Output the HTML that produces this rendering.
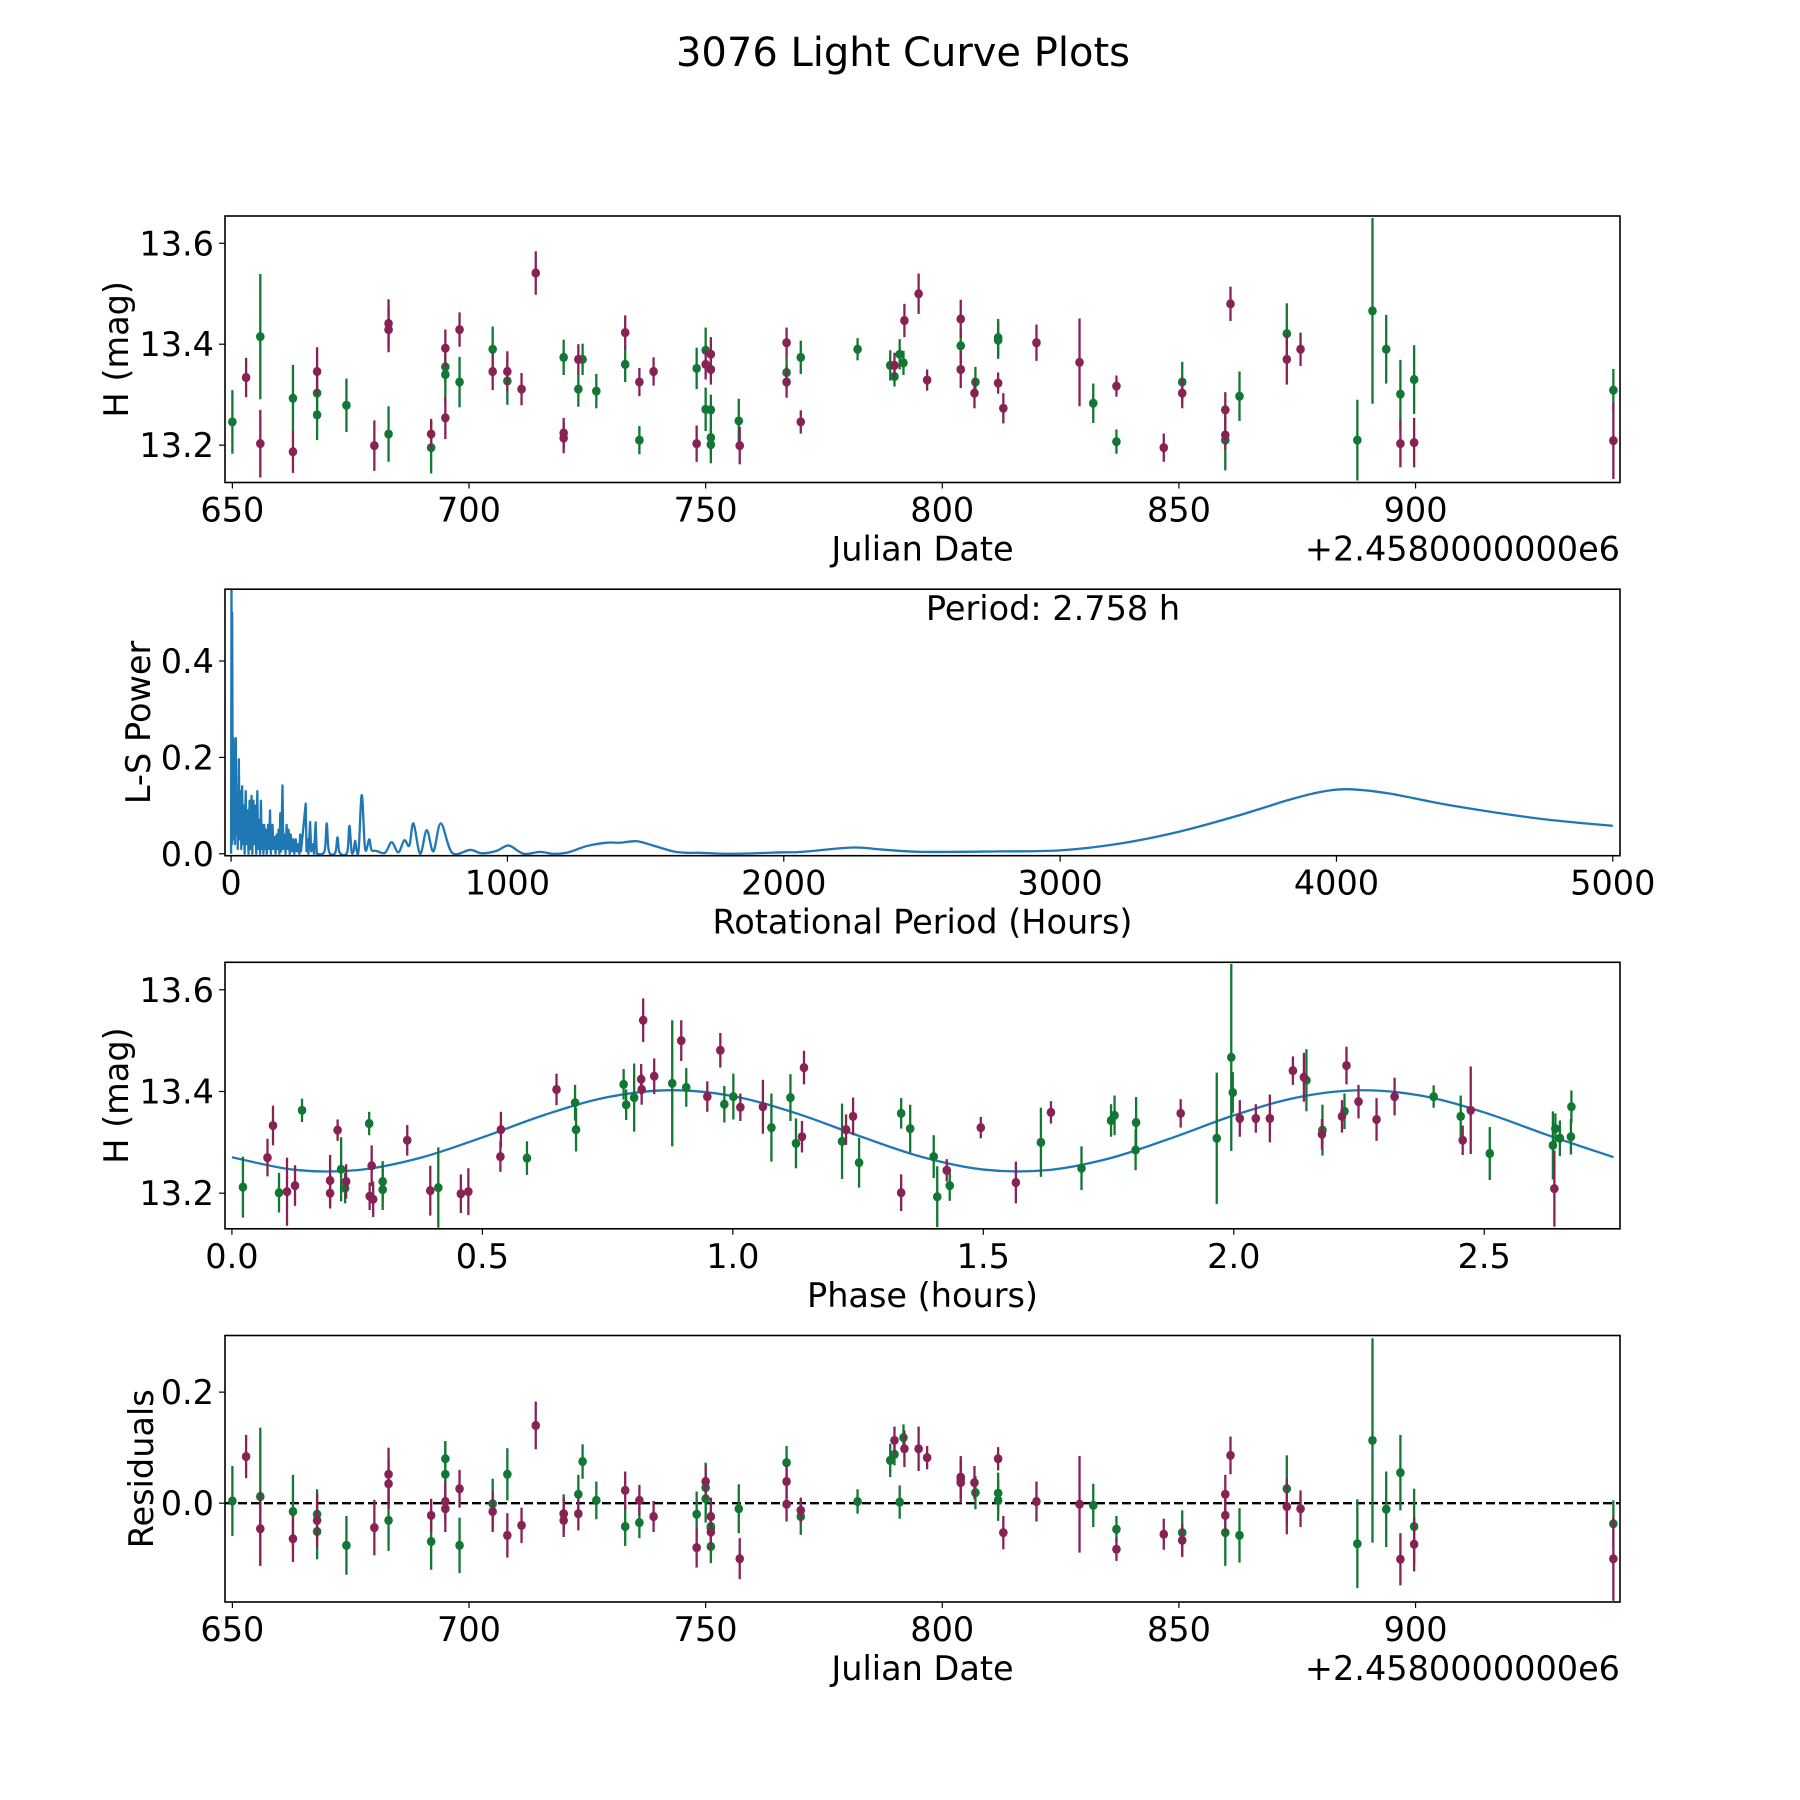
<!DOCTYPE html>
<html><head><meta charset="utf-8"><title>3076 Light Curve Plots</title>
<style>
html,body{margin:0;padding:0;background:#fff;}
svg{display:block;font-family:"DejaVu Sans","Liberation Sans",sans-serif;}
</style></head>
<body>
<svg id="fig" width="1800" height="1800" viewBox="0 0 1800 1800" xmlns="http://www.w3.org/2000/svg">
<rect x="0" y="0" width="1800" height="1800" fill="#fff"/>
<text x="903" y="66" font-size="40" text-anchor="middle">3076 Light Curve Plots</text>
</svg>
<script>
// ---- data: light curve (panel 1) and residuals (panel 4) ----
const obsDates = [650.0,652.9,655.9,655.9,662.8,662.8,667.9,667.9,667.9,674.1,680.0,683.0,683.0,683.0,692.0,692.0,695.0,695.0,695.0,695.0,698.0,698.0,705.0,705.0,708.1,708.1,711.1,714.1,720.0,720.0,720.0,723.1,723.1,724.0,726.9,733.0,733.0,736.0,736.0,739.0,748.1,748.1,750.0,750.0,750.0,751.1,751.1,751.1,751.1,751.1,757.0,757.2,767.1,767.1,767.1,770.1,770.1,782.1,789.0,789.9,789.9,791.0,791.8,792.0,795.0,796.8,803.9,803.9,803.9,807.0,806.8,811.8,811.8,811.8,812.9,819.9,829.0,831.9,836.8,836.8,846.8,850.7,850.7,859.8,859.8,859.8,860.9,862.8,872.8,872.8,875.7,887.7,890.9,893.8,896.8,896.8,899.7,899.7,941.8,941.8];
const obsFilters = ["G","P","G","P","G","P","P","G","G","G","P","G","P","P","P","G","P","G","G","P","P","G","G","P","P","G","P","P","G","P","P","P","G","G","G","P","G","P","G","P","G","P","G","P","G","P","P","G","G","G","G","P","P","G","P","G","P","G","G","P","G","G","G","P","P","P","P","G","P","G","P","G","G","P","P","P","P","G","P","G","P","G","P","P","P","G","P","G","G","P","P","G","G","G","G","P","G","P","G","P"];
const obsMags = [13.246,13.334,13.415,13.203,13.293,13.187,13.346,13.303,13.260,13.279,13.199,13.222,13.441,13.429,13.222,13.195,13.392,13.355,13.340,13.254,13.429,13.325,13.390,13.346,13.346,13.327,13.311,13.541,13.374,13.224,13.214,13.370,13.311,13.370,13.307,13.423,13.360,13.325,13.210,13.346,13.352,13.203,13.388,13.360,13.271,13.380,13.350,13.270,13.215,13.201,13.248,13.199,13.403,13.344,13.325,13.374,13.246,13.390,13.358,13.358,13.336,13.380,13.363,13.447,13.500,13.329,13.450,13.397,13.350,13.325,13.303,13.413,13.408,13.323,13.273,13.403,13.364,13.283,13.317,13.207,13.195,13.325,13.303,13.270,13.220,13.210,13.480,13.297,13.421,13.370,13.390,13.210,13.466,13.390,13.301,13.203,13.330,13.205,13.309,13.209];
const obsErrs = [0.063,0.039,0.124,0.067,0.066,0.042,0.048,0.045,0.050,0.053,0.050,0.055,0.048,0.045,0.030,0.051,0.037,0.030,0.060,0.042,0.034,0.050,0.045,0.037,0.040,0.047,0.032,0.043,0.035,0.030,0.030,0.030,0.035,0.031,0.034,0.034,0.035,0.028,0.028,0.028,0.041,0.036,0.045,0.030,0.043,0.034,0.030,0.030,0.030,0.037,0.044,0.037,0.030,0.030,0.031,0.033,0.023,0.022,0.030,0.025,0.020,0.030,0.024,0.033,0.040,0.021,0.038,0.035,0.037,0.030,0.030,0.037,0.037,0.021,0.030,0.036,0.087,0.039,0.021,0.024,0.028,0.040,0.030,0.035,0.030,0.060,0.034,0.049,0.060,0.050,0.033,0.080,0.184,0.068,0.068,0.047,0.068,0.049,0.042,0.076];
const residVals = [0.004,0.084,0.012,-0.046,-0.015,-0.064,-0.031,-0.020,-0.051,-0.076,-0.044,-0.031,0.052,0.035,-0.022,-0.069,0.003,0.080,0.052,-0.010,0.026,-0.076,-0.001,-0.015,-0.058,0.052,-0.040,0.140,-0.019,-0.019,-0.031,-0.019,0.016,0.075,0.005,0.023,-0.042,0.005,-0.035,-0.024,-0.020,-0.080,0.028,0.039,0.008,-0.024,-0.052,-0.042,-0.078,-0.045,-0.010,-0.100,0.039,0.073,-0.002,-0.024,-0.013,0.003,0.077,0.113,0.088,0.002,0.118,0.098,0.098,0.082,0.047,0.043,0.037,0.019,0.037,0.018,0.005,0.080,-0.053,0.003,-0.002,-0.004,-0.083,-0.047,-0.056,-0.053,-0.067,0.016,-0.022,-0.053,0.086,-0.058,0.026,-0.006,-0.010,-0.073,0.113,-0.011,0.055,-0.101,-0.042,-0.074,-0.037,-0.100];

// ---- data: phase-folded curve (panel 3) ----
const phaseVals = [0.022,0.071,0.082,0.094,0.110,0.126,0.140,0.196,0.196,0.211,0.218,0.226,0.228,0.274,0.275,0.279,0.282,0.301,0.301,0.350,0.396,0.412,0.457,0.472,0.537,0.536,0.589,0.648,0.685,0.687,0.782,0.787,0.803,0.817,0.818,0.821,0.843,0.879,0.897,0.907,0.949,0.975,0.983,1.001,1.015,1.060,1.077,1.115,1.126,1.138,1.142,1.218,1.226,1.240,1.252,1.336,1.336,1.354,1.401,1.408,1.427,1.433,1.495,1.565,1.615,1.635,1.696,1.755,1.762,1.805,1.804,1.894,1.966,1.995,1.998,2.012,2.044,2.072,2.118,2.140,2.145,2.177,2.176,2.216,2.221,2.225,2.249,2.285,2.321,2.399,2.453,2.457,2.473,2.511,2.637,2.640,2.642,2.651,2.673,2.674];
const phaseMags = [13.212,13.270,13.333,13.201,13.203,13.215,13.363,13.225,13.200,13.324,13.247,13.210,13.223,13.337,13.194,13.254,13.188,13.223,13.207,13.304,13.205,13.211,13.199,13.203,13.325,13.272,13.269,13.404,13.378,13.325,13.414,13.374,13.388,13.424,13.404,13.540,13.430,13.416,13.500,13.408,13.390,13.481,13.375,13.390,13.369,13.370,13.329,13.388,13.298,13.311,13.447,13.302,13.325,13.351,13.260,13.357,13.201,13.327,13.272,13.193,13.245,13.215,13.329,13.221,13.300,13.359,13.249,13.343,13.353,13.339,13.285,13.357,13.308,13.467,13.398,13.347,13.347,13.347,13.441,13.428,13.422,13.324,13.316,13.351,13.361,13.451,13.380,13.345,13.390,13.390,13.351,13.304,13.363,13.278,13.294,13.209,13.327,13.308,13.311,13.370];
const phaseErrs = [0.060,0.037,0.039,0.039,0.067,0.040,0.023,0.050,0.030,0.021,0.063,0.030,0.034,0.023,0.027,0.040,0.035,0.040,0.040,0.030,0.049,0.079,0.038,0.046,0.035,0.030,0.033,0.031,0.035,0.043,0.030,0.030,0.067,0.030,0.030,0.043,0.035,0.124,0.040,0.038,0.030,0.034,0.036,0.045,0.027,0.053,0.067,0.046,0.049,0.031,0.033,0.074,0.030,0.037,0.049,0.030,0.036,0.047,0.042,0.060,0.022,0.030,0.021,0.041,0.068,0.022,0.043,0.032,0.039,0.050,0.040,0.028,0.129,0.184,0.040,0.036,0.028,0.047,0.028,0.048,0.061,0.050,0.030,0.032,0.035,0.037,0.033,0.042,0.037,0.022,0.041,0.029,0.086,0.052,0.067,0.075,0.030,0.035,0.035,0.032];
const phaseFilters = ["G","P","P","G","P","P","G","P","P","P","G","G","P","G","P","P","P","G","G","P","P","G","P","P","P","P","G","P","G","G","G","G","G","P","P","P","P","G","P","G","P","P","G","G","P","P","G","G","G","P","P","G","P","P","G","G","P","G","G","G","P","G","P","P","G","P","G","G","G","G","G","P","G","G","G","P","P","P","P","P","G","G","P","P","G","P","P","P","P","G","G","P","P","G","G","P","G","G","G","G"];
const fitPhases = [0,0.125,0.25,0.375,0.5,0.625,0.75,0.875,1.0,1.125,1.25,1.375,1.5,1.625,1.75,1.875,2.0,2.125,2.25,2.375,2.5,2.625,2.758];
const fitMags = [13.2708,13.2460,13.2454,13.2692,13.3097,13.3543,13.3889,13.4025,13.3909,13.3576,13.3133,13.2719,13.2465,13.2451,13.2680,13.3082,13.3530,13.3880,13.4024,13.3916,13.3588,13.3148,13.2708];

// ---- data: periodogram (panel 2) ----
const lsPeriods = [0,1.5,3,4,6,8,10,12,14,17,19,22,24,28,31,34,37,40,43,46,49,53,56,60,63,67,70,74,77,81,84,88,91,95,98,102,105,108,111,114,117,120,123,126,129,134,137,141,144,150,153,158,161,165,168,172,175,178,181,186,189,194,197,201,205,208,212,216,220,225,229,234,238,243,247,250,253,270,273,276,280,286,290,296,300,306,310,338,346,354,377,385,393,420,428,436,443,449,455,462,473,485,500,508,525,557,581,605,627,645,660,684,708,732,759,800,865,907,961,1005,1058,1118,1166,1220,1287,1360,1408,1468,1528,1600,1650,1697,1805,2000,2065,2250,2350,2500,2780,3000,3215,3432,3649,3823,3931,4039,4191,4408,4733,5000];
const lsPowers = [0.0,0.56,0.02,0.50,0.05,0.24,0.03,0.23,0.02,0.24,0.04,0.12,0.01,0.196,0.03,0.13,0.01,0.14,0.02,0.10,0.0,0.13,0.02,0.09,0.0,0.11,0.01,0.12,0.0,0.11,0.02,0.10,0.0,0.13,0.01,0.07,0.0,0.11,0.01,0.06,0.0,0.06,0.01,0.05,0.0,0.06,0.01,0.09,0.0,0.06,0.01,0.035,0.0,0.04,0.01,0.05,0.0,0.084,0.005,0.142,0.01,0.04,0.0,0.06,0.01,0.05,0.0,0.04,0.005,0.03,0.0,0.03,0.005,0.02,0.0,0.04,0.005,0.104,0.005,0.03,0.0,0.066,0.005,0.02,0.0,0.065,0.0,0.005,0.063,0.005,0.002,0.034,0.002,0.003,0.058,0.005,0.005,0.027,0.005,0.01,0.122,0.01,0.03,0.008,0.006,0.002,0.024,0.003,0.028,0.017,0.063,0.0,0.049,0.005,0.063,0.002,0.008,0.001,0.006,0.017,0.0,0.004,0.0,0.003,0.016,0.023,0.023,0.026,0.017,0.005,0.002,0.002,0.0,0.003,0.004,0.013,0.009,0.004,0.005,0.007,0.021,0.046,0.080,0.111,0.127,0.134,0.125,0.101,0.073,0.058];

// ---- tick labels ----
const jdTicks = [650,700,750,800,850,900];
const magTicks = [13.2,13.4,13.6];
const lsXTicks = [0,1000,2000,3000,4000,5000];
const lsYTicks = [0.0,0.2,0.4];
const phaseTicks = [0.0,0.5,1.0,1.5,2.0,2.5];
const residTicks = [0.0,0.2];

const NS = "http://www.w3.org/2000/svg";
const svg = document.getElementById('fig');
const COL = {G:"#117733", P:"#882255"};
const AX_L = 225, AX_R = 1620, AX_H = 266.5;
const TOPS = [216, 589.2, 962.3, 1335.5];
const FS = 33.5;

function mk(tag, attrs, parent){
  const e = document.createElementNS(NS, tag);
  for (const k in attrs) e.setAttribute(k, attrs[k]);
  (parent||svg).appendChild(e);
  return e;
}
function linScale(d0,d1,r0,r1){ return v => r0 + (v-d0)*(r1-r0)/(d1-d0); }

function makePanel(idx, name, xlim, ylim){
  const top = TOPS[idx], bot = top + AX_H;
  const g = mk('g', {});
  
  
  const cp = mk('clipPath', {id:'clip'+idx}, g);
  mk('rect', {x:AX_L, y:top, width:AX_R-AX_L, height:AX_H}, cp);
  const plot = mk('g', {'clip-path':'url(#clip'+idx+')'}, g);
  
  
  return {g, plot, top, bot, x: linScale(xlim[0],xlim[1],AX_L,AX_R), y: linScale(ylim[0],ylim[1],bot,top)};
}
function frame(p, name){
  const r = mk('rect', {x:AX_L, y:p.top, width:AX_R-AX_L, height:AX_H, fill:'none', stroke:'#000', 'stroke-width':1.6}, p.g);
  
  
}
function xTicks(p, vals, fmt, name){
  vals.forEach(v => {
    const x = p.x(v);
    mk('line', {x1:x, x2:x, y1:p.bot, y2:p.bot+6, stroke:'#000', 'stroke-width':1.2}, p.g);
    const t = mk('text', {x:x, y:p.bot+39, 'font-size':FS, 'text-anchor':'middle'}, p.g);
    
    
    t.textContent = fmt(v);
  });
}
function yTicks(p, vals, fmt, name){
  vals.forEach(v => {
    const y = p.y(v);
    mk('line', {x1:AX_L-6, x2:AX_L, y1:y, y2:y, stroke:'#000', 'stroke-width':1.2}, p.g);
    const t = mk('text', {x:AX_L-11, y:y+12, 'font-size':FS, 'text-anchor':'end'}, p.g);
    
    
    t.textContent = fmt(v);
  });
}
function labels(p, xl, yl, ylx, name){
  const t = mk('text', {x:(AX_L+AX_R)/2, y:p.bot+78, 'font-size':FS, 'text-anchor':'middle'}, p.g);
  
  
  t.textContent = xl;
  const cy = (p.top+p.bot)/2;
  const u = mk('text', {x:ylx, y:cy, 'font-size':FS, 'text-anchor':'middle', transform:'rotate(-90 '+ylx+' '+cy+')', dy:12}, p.g);
  
  
  u.textContent = yl;
}
function offsetText(p, name){
  const t = mk('text', {x:AX_R, y:p.bot+78, 'font-size':FS, 'text-anchor':'end'}, p.g);
  
  
  t.textContent = '+2.4580000000e6';
}
function errPoints(p, xs, ys, es, fs, name){
  ['G','P'].forEach(f => {
    for (let i=0;i<xs.length;i++){
      if (fs[i]!==f) continue;
      const x = p.x(xs[i]);
      const b = mk('line', {x1:x, x2:x, y1:p.y(ys[i]-es[i]), y2:p.y(ys[i]+es[i]), stroke:COL[f], 'stroke-width':2.3}, p.plot);
      
      
    }
    for (let i=0;i<xs.length;i++){
      if (fs[i]!==f) continue;
      const c = mk('ellipse', {cx:p.x(xs[i]), cy:p.y(ys[i]), rx:4.3, ry:4.6, fill:COL[f]}, p.plot);
      
      
    }
  });
}
function smoothPath(P){
  let s = 'M'+P[0][0].toFixed(2)+' '+P[0][1].toFixed(2);
  for (let i=0;i<P.length-1;i++){
    const a=P[Math.max(0,i-1)], b=P[i], c=P[i+1], e=P[Math.min(P.length-1,i+2)];
    const c1=[b[0]+(c[0]-a[0])/6, b[1]+(c[1]-a[1])/6], c2=[c[0]-(e[0]-b[0])/6, c[1]-(e[1]-b[1])/6];
    s += ' C'+c1[0].toFixed(2)+' '+c1[1].toFixed(2)+' '+c2[0].toFixed(2)+' '+c2[1].toFixed(2)+' '+c[0].toFixed(2)+' '+c[1].toFixed(2);
  }
  return s;
}
const fmt1 = v => v.toFixed(1);
const fmt0 = v => String(v);

// Panel 1
const p1 = makePanel(0, 'light-curve-panel', [648.44,943.2], [13.126,13.654]);
errPoints(p1, obsDates, obsMags, obsErrs, obsFilters, 'light-curve');
frame(p1,'light-curve'); xTicks(p1, jdTicks, fmt0, 'light-curve'); yTicks(p1, magTicks, fmt1, 'light-curve');
labels(p1, 'Julian Date', 'H (mag)', 116, 'light-curve'); offsetText(p1,'light-curve');

// Panel 2
const p2 = makePanel(1, 'periodogram-panel', [-22,5026], [-0.004,0.549]);
let d = '';
let splitIdx = lsPeriods.findIndex(v => v >= 310);
for (let i=0;i<=splitIdx;i++){ d += (i?'L':'M') + p2.x(lsPeriods[i]).toFixed(2) + ' ' + p2.y(lsPowers[i]).toFixed(2) + ' '; }
const tailPts = [];
for (let i=splitIdx;i<lsPeriods.length;i++){ tailPts.push([p2.x(lsPeriods[i]), p2.y(lsPowers[i])]); }
d += smoothPath(tailPts).replace(/^M[^C]*/, ' ');
const ls = mk('path', {d:d, fill:'none', stroke:'#1f77b4', 'stroke-width':2.3, 'stroke-linejoin':'round'}, p2.plot);


frame(p2,'periodogram'); xTicks(p2, lsXTicks, fmt0, 'periodogram'); yTicks(p2, lsYTicks, fmt1, 'periodogram');
labels(p2, 'Rotational Period (Hours)', 'L-S Power', 138, 'periodogram');
const pt = mk('text', {x:1053, y:620, 'font-size':FS, 'text-anchor':'middle'}, p2.g);


pt.textContent = 'Period: 2.758 h';

// Panel 3
const p3 = makePanel(2, 'phase-fold-panel', [-0.0138,2.771], [13.130,13.654]);
const fl = mk('path', {d:smoothPath(fitPhases.map((ph,i)=>[p3.x(ph), p3.y(fitMags[i])])), fill:'none', stroke:'#1f77b4', 'stroke-width':2.3}, p3.plot);


errPoints(p3, phaseVals, phaseMags, phaseErrs, phaseFilters, 'phase-fold');
frame(p3,'phase-fold'); xTicks(p3, phaseTicks, fmt1, 'phase-fold'); yTicks(p3, magTicks, fmt1, 'phase-fold');
labels(p3, 'Phase (hours)', 'H (mag)', 116, 'phase-fold');

// Panel 4
const p4 = makePanel(3, 'residuals-panel', [648.44,943.2], [-0.178,0.302]);
const zl = mk('line', {x1:AX_L, x2:AX_R, y1:p4.y(0), y2:p4.y(0), stroke:'#000', 'stroke-width':2.4, 'stroke-dasharray':'9 4'}, p4.plot);


errPoints(p4, obsDates, residVals, obsErrs, obsFilters, 'residuals');
frame(p4,'residuals'); xTicks(p4, jdTicks, fmt0, 'residuals'); yTicks(p4, residTicks, fmt1, 'residuals');
labels(p4, 'Julian Date', 'Residuals', 141, 'residuals'); offsetText(p4,'residuals');
</script>
</body></html>
